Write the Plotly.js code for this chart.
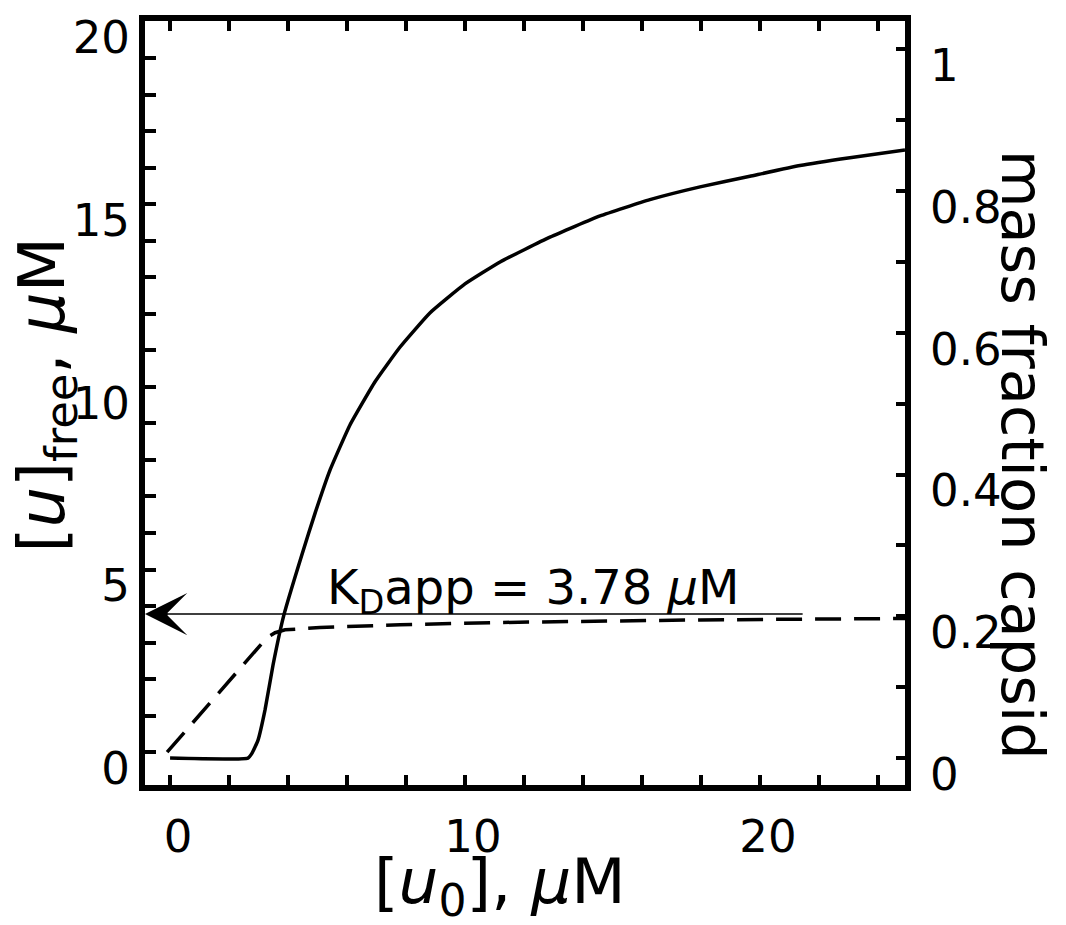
<!DOCTYPE html>
<html>
<head>
<meta charset="utf-8">
<script src="https://cdn.plot.ly/plotly-3.0.1.min.js"></script>
<style>html,body{margin:0;padding:0;background:#fff;}#chart{width:1066px;height:925px;}</style>
</head>
<body>
<div id="chart"></div>
<script>
// mass fraction capsid (right axis) vs total subunit concentration
const u0Capsid = [0, 2.64, 2.78, 2.98, 3.22, 3.49, 3.86, 4.47, 4.92, 5.42, 6.10, 6.95, 7.80, 8.81, 10.0, 11.19, 12.88, 14.58, 16.27, 17.97, 19.66, 21.36, 23.05, 24.92];
const massFraction = [0, 0, 0.007, 0.025, 0.068, 0.131, 0.202, 0.287, 0.346, 0.406, 0.470, 0.531, 0.580, 0.628, 0.669, 0.700, 0.735, 0.765, 0.788, 0.806, 0.821, 0.836, 0.847, 0.858];
// free subunit concentration (left axis)
const u0Free = [-0.1, 3.29, 3.56, 3.9, 5.08, 7.8, 11.19, 14.58, 17.97, 21.36, 24.92];
const uFree = [0, 3.14, 3.27, 3.35, 3.41, 3.49, 3.55, 3.59, 3.62, 3.64, 3.66];
// apparent dissociation constant
const KDapp = 3.78;
const kdLineEnd = 21.5;

const xTickVals = [0, 2, 4, 6, 8, 10, 12, 14, 16, 18, 20, 22, 24];
const xTickText = ['0', '', '', '', '', '10', '', '', '', '', '20', '', ''];
const yTickVals = [0,1,2,3,4,5,6,7,8,9,10,11,12,13,14,15,16,17,18,19,20];
const yTickText = ['0','','','','','5','','','','','10','','','','','15','','','','','20'];
const y2TickVals = [0,0.1,0.2,0.3,0.4,0.5,0.6,0.7,0.8,0.9,1.0];
const y2TickText = ['0','','0.2','','0.4','','0.6','','0.8','','1'];

const xRange = [-0.85, 24.92];
const yRange = [-0.9, 20.02];
const y2Range = [-0.038, 1.040];

const FONT = 'DejaVu Sans, sans-serif';

const traces = [
  {x: u0Capsid, y: massFraction, yaxis: 'y2', mode: 'lines', line: {color: '#000', width: 3.5, shape: 'spline', smoothing: 0.4}, hoverinfo: 'skip'},
  {x: u0Free, y: uFree, yaxis: 'y', mode: 'lines', line: {color: '#000', width: 3.5, dash: '26px,13px'}, hoverinfo: 'skip'}
];

const layout = {
  width: 1066, height: 925,
  margin: {l: 145, r: 161, t: 21, b: 140},
  paper_bgcolor: '#fff', plot_bgcolor: '#fff',
  showlegend: false,
  font: {family: FONT, color: '#000', size: 45},
  xaxis: {
    range: xRange, tickvals: xTickVals, ticktext: xTickText,
    ticks: 'inside', ticklen: 10, tickwidth: 4, tickcolor: '#000',
    showline: true, linewidth: 6, linecolor: '#000', mirror: 'ticks',
    showgrid: false, zeroline: false, ticklabelshift: 8, ticklabelstandoff: 7,
    tickfont: {size: 45, family: FONT}
  },
  yaxis: {
    range: yRange, tickvals: yTickVals, ticktext: yTickText,
    ticks: 'inside', ticklen: 11, tickwidth: 4, tickcolor: '#000',
    showline: true, linewidth: 6, linecolor: '#000',
    showgrid: false, zeroline: false, ticklabelshift: 16,
    tickfont: {size: 45, family: FONT}
  },
  yaxis2: {
    range: y2Range, tickvals: y2TickVals, ticktext: y2TickText,
    overlaying: 'y', side: 'right',
    ticks: 'inside', ticklen: 9, tickwidth: 4, tickcolor: '#000',
    showline: true, linewidth: 6, linecolor: '#000',
    showgrid: false, zeroline: false, ticklabelshift: 16, ticklabelstandoff: 10,
    tickfont: {size: 45, family: FONT}
  },
  annotations: [
    {x: xRange[0], y: KDapp, xref: 'x', yref: 'y', ax: kdLineEnd, ay: KDapp, axref: 'x', ayref: 'y',
     showarrow: true, arrowhead: 3, arrowsize: 4.7, arrowwidth: 1.5, arrowcolor: '#000', standoff: 0, text: ''},
    {x: 12.34, y: 4.42, xref: 'x', yref: 'y', showarrow: false,
     text: 'K<sub>D</sub>app = 3.78 <i>μ</i>M', font: {size: 48, family: FONT}},
    {x: 0.467, y: -0.131, xref: 'paper', yref: 'paper', xanchor: 'center', yanchor: 'middle', showarrow: false,
     text: '[<i>u</i><sub>0</sub>], <i>μ</i>M', font: {size: 63, family: FONT}},
    {x: -0.13, y: 0.51, xref: 'paper', yref: 'paper', xanchor: 'center', yanchor: 'middle', showarrow: false, textangle: -90,
     text: '[<i>u</i>]<sub>free</sub>, <i>μ</i>M', font: {size: 64, family: FONT}},
    {x: 1.154, y: 0.432, xref: 'paper', yref: 'paper', xanchor: 'center', yanchor: 'middle', showarrow: false, textangle: 90,
     text: 'mass fraction capsid', font: {size: 59, family: FONT}}
  ]
};

Plotly.newPlot('chart', traces, layout, {staticPlot: true, displayModeBar: false});
</script>
</body>
</html>
